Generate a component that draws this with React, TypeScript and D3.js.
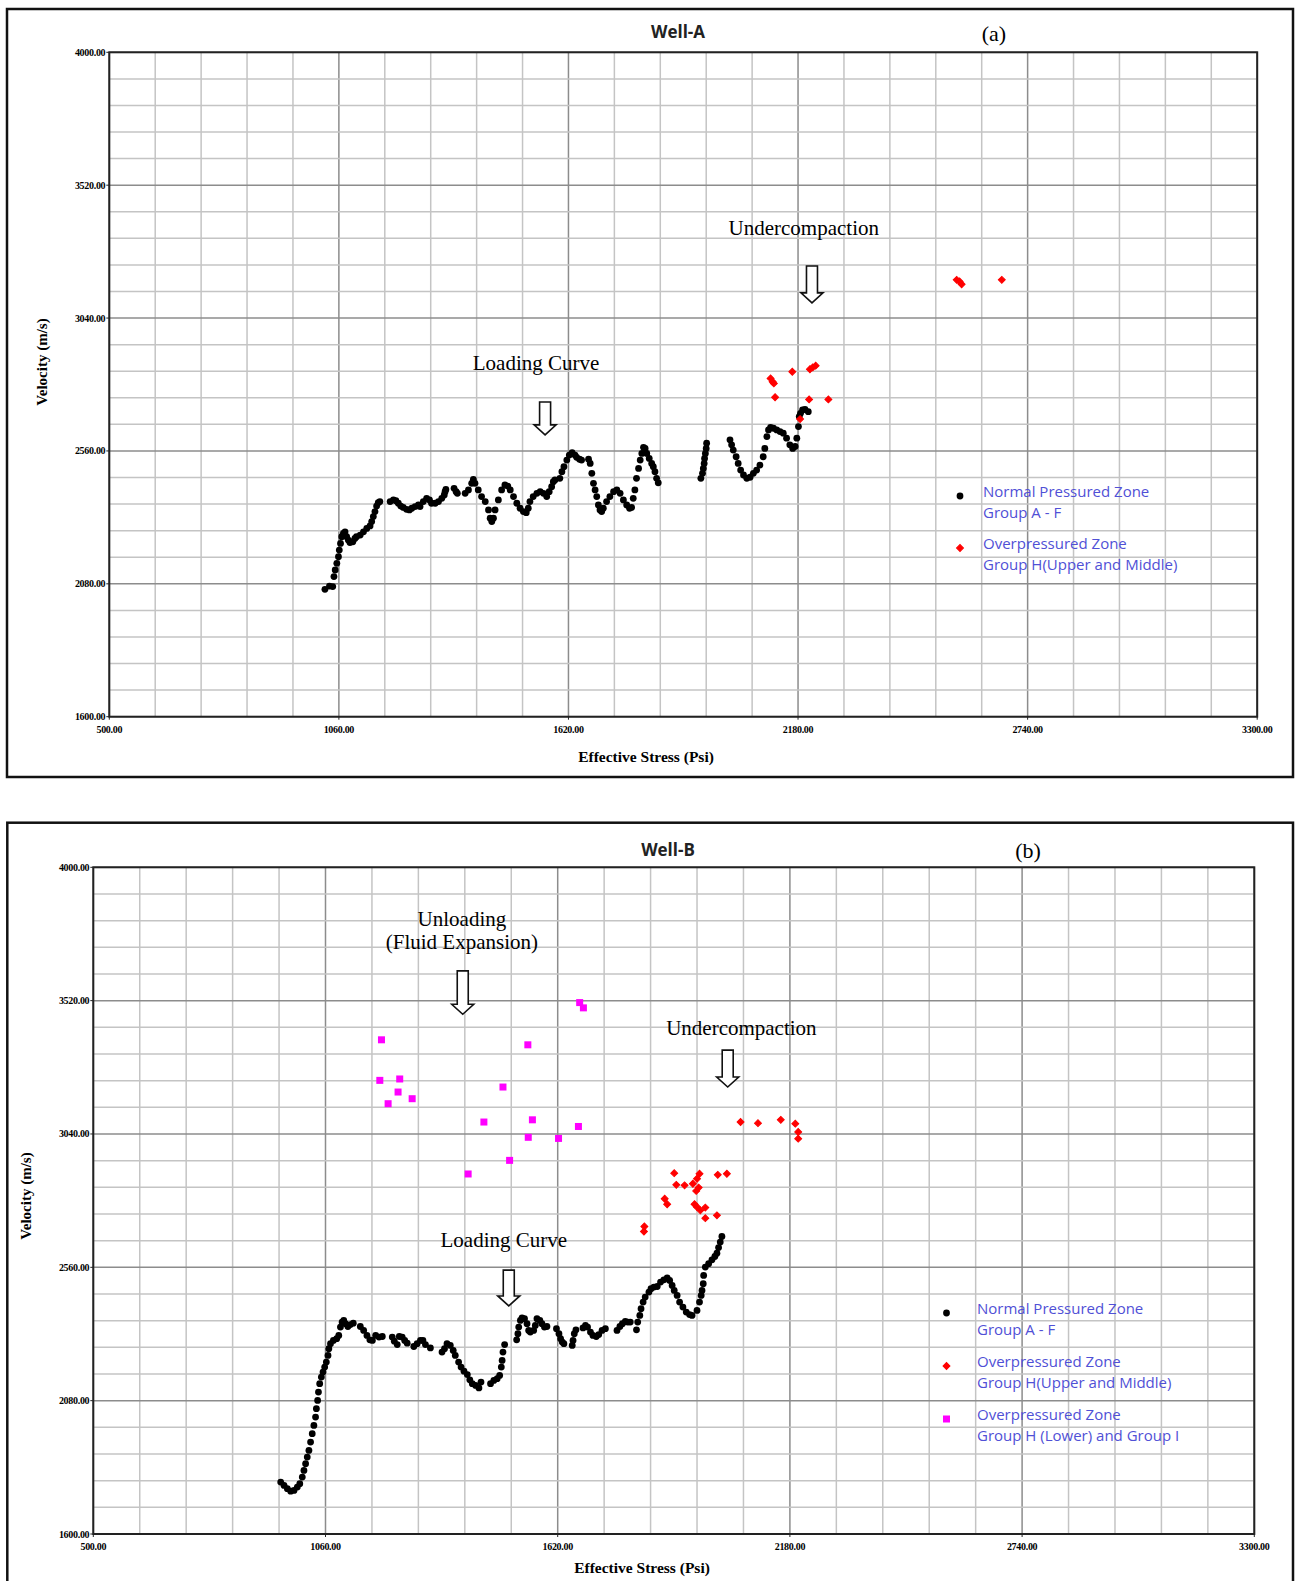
import { useEffect, useRef } from 'react';
import * as d3 from 'd3';

// Axis ticks shared by both panels
const xTicks = [500, 1060, 1620, 2180, 2740, 3300];
const yTicks = [1600, 2080, 2560, 3040, 3520, 4000];

// Well-A: normal pressured zone (Group A - F), [effective stress, velocity]
const wellANormal = [
    [1026, 2060], [1037, 2072], [1045, 2070], [1048, 2106], [1051, 2130], [1055, 2154], [1059, 2178],
    [1061, 2202], [1064, 2226], [1067, 2250], [1071, 2262], [1075, 2268], [1079, 2250], [1083, 2238],
    [1087, 2229], [1094, 2232], [1099, 2244], [1103, 2250], [1112, 2256], [1120, 2268], [1128, 2280],
    [1136, 2289], [1140, 2305], [1144, 2323], [1148, 2341], [1152, 2361], [1156, 2373], [1160, 2377],
    [1185, 2377], [1193, 2383], [1199, 2380], [1205, 2371], [1211, 2361], [1217, 2356], [1225, 2349],
    [1232, 2347], [1238, 2353], [1246, 2359], [1254, 2365], [1258, 2359], [1266, 2377], [1274, 2389],
    [1281, 2383], [1286, 2371], [1295, 2371], [1303, 2377], [1311, 2389], [1317, 2401], [1319, 2413],
    [1321, 2421], [1341, 2425], [1346, 2413], [1349, 2407], [1368, 2407], [1376, 2419], [1384, 2443],
    [1388, 2457], [1392, 2443], [1400, 2419], [1408, 2395], [1417, 2377], [1425, 2347], [1429, 2317],
    [1433, 2305], [1437, 2317], [1441, 2347], [1449, 2383], [1457, 2419], [1465, 2437], [1472, 2433],
    [1478, 2419], [1486, 2395], [1494, 2371], [1502, 2353], [1510, 2341], [1517, 2337], [1522, 2353],
    [1526, 2377], [1534, 2395], [1543, 2407], [1551, 2413], [1559, 2407], [1567, 2395], [1573, 2413],
    [1579, 2431], [1583, 2449], [1587, 2455], [1599, 2461], [1604, 2485], [1609, 2503], [1616, 2527],
    [1622, 2545], [1629, 2554], [1636, 2545], [1640, 2537], [1647, 2530], [1652, 2527], [1669, 2530],
    [1673, 2515], [1677, 2479], [1681, 2443], [1685, 2419], [1689, 2395], [1693, 2365], [1697, 2347],
    [1701, 2341], [1705, 2353], [1713, 2377], [1721, 2395], [1730, 2413], [1738, 2419], [1746, 2407],
    [1754, 2383], [1762, 2365], [1769, 2353], [1774, 2356], [1778, 2389], [1782, 2419], [1786, 2461],
    [1791, 2497], [1795, 2527], [1799, 2551], [1803, 2573], [1807, 2569], [1811, 2551], [1817, 2533],
    [1823, 2515], [1827, 2503], [1831, 2485], [1835, 2461], [1839, 2445],
    [1957, 2588], [1956, 2569], [1954, 2551], [1952, 2533], [1951, 2515], [1949, 2497], [1947, 2479],
    [1943, 2461],
    [2014, 2600], [2018, 2582], [2022, 2563], [2029, 2539], [2034, 2515], [2040, 2491], [2047, 2473],
    [2055, 2461], [2063, 2465], [2071, 2479], [2079, 2491], [2087, 2509], [2095, 2539], [2099, 2569],
    [2104, 2612], [2108, 2636], [2113, 2645], [2120, 2642], [2128, 2636], [2136, 2630], [2144, 2624],
    [2152, 2606], [2160, 2582], [2167, 2569], [2173, 2576], [2177, 2606], [2181, 2648], [2183, 2684],
    [2186, 2696], [2191, 2708], [2197, 2710], [2205, 2702],
];

// Well-A: overpressured zone, Group H (upper and middle)
const wellAOverUpper = [
    [2113, 2822], [2118, 2810], [2121, 2804], [2124, 2754], [2166, 2846], [2207, 2746], [2209, 2855],
    [2216, 2862], [2223, 2868], [2254, 2746], [2185, 2675], [2567, 3178], [2574, 3172], [2579, 3162],
    [2677, 3178],
];

// Well-B: normal pressured zone (Group A - F)
const wellBNormal = [
    [952, 1787], [960, 1775], [968, 1763], [976, 1754], [984, 1757], [992, 1769], [998, 1781],
    [1004, 1805], [1008, 1829], [1012, 1853], [1016, 1877], [1020, 1901], [1024, 1931], [1028, 1961],
    [1032, 1991], [1036, 2021], [1038, 2051], [1041, 2081], [1043, 2111], [1046, 2141], [1050, 2165],
    [1054, 2183], [1058, 2201], [1062, 2219], [1066, 2243], [1068, 2267], [1072, 2285], [1079, 2297],
    [1087, 2303], [1092, 2315], [1096, 2345], [1100, 2363], [1104, 2369], [1108, 2357], [1114, 2347],
    [1120, 2354], [1127, 2359],
    [1144, 2347], [1152, 2333], [1160, 2315], [1167, 2299], [1173, 2297], [1181, 2315], [1189, 2309],
    [1197, 2311],
    [1221, 2309], [1226, 2294], [1233, 2282], [1238, 2311], [1245, 2309], [1251, 2297], [1257, 2287],
    [1273, 2275], [1281, 2285], [1289, 2297], [1295, 2297], [1301, 2282], [1313, 2270],
    [1341, 2255], [1347, 2267], [1353, 2285], [1361, 2279], [1368, 2261], [1373, 2243], [1381, 2219],
    [1387, 2201], [1394, 2186], [1402, 2174], [1408, 2155], [1414, 2141], [1422, 2135], [1430, 2126],
    [1435, 2147],
    [1458, 2141], [1466, 2153], [1474, 2159], [1480, 2171], [1484, 2201], [1486, 2225], [1488, 2255],
    [1492, 2282],
    [1521, 2299], [1524, 2321], [1526, 2345], [1530, 2369], [1534, 2378], [1540, 2375], [1546, 2357],
    [1550, 2333], [1554, 2327], [1562, 2333], [1566, 2351], [1570, 2375], [1577, 2369], [1582, 2357],
    [1588, 2345], [1594, 2347],
    [1617, 2339], [1623, 2321], [1627, 2303], [1631, 2291], [1635, 2285],
    [1655, 2279], [1657, 2297], [1660, 2321], [1664, 2335],
    [1681, 2342], [1687, 2351], [1692, 2345], [1699, 2327], [1705, 2315], [1713, 2311], [1719, 2318],
    [1727, 2333], [1735, 2339],
    [1763, 2333], [1770, 2347], [1776, 2357], [1783, 2365], [1789, 2363], [1795, 2363],
    [1810, 2335], [1813, 2363], [1818, 2387], [1821, 2411], [1826, 2435], [1831, 2453], [1840, 2471],
    [1845, 2483], [1852, 2489], [1860, 2491], [1868, 2507], [1876, 2515], [1884, 2522], [1890, 2513],
    [1896, 2495], [1901, 2477], [1908, 2459], [1914, 2435], [1922, 2417], [1930, 2399], [1938, 2390],
    [1944, 2387], [1956, 2405], [1962, 2435], [1966, 2459], [1968, 2477], [1971, 2501], [1972, 2531],
    [1976, 2561], [1984, 2573], [1992, 2587], [1999, 2599], [2004, 2611], [2008, 2631], [2012, 2651],
    [2016, 2671],
];

// Well-B: overpressured zone, Group H (upper and middle)
const wellBOverUpper = [
    [2061, 3083], [2103, 3079], [2158, 3091], [2193, 3077], [2200, 3047], [2200, 3023], [1901, 2899],
    [1962, 2897], [2006, 2893], [2028, 2897], [1906, 2857], [1926, 2855], [1946, 2861], [1956, 2879],
    [1954, 2835], [1960, 2847], [1950, 2787], [1956, 2777], [1964, 2765], [1976, 2775], [1976, 2737],
    [2004, 2747], [1878, 2807], [1884, 2787], [1829, 2707], [1828, 2689],
];

// Well-B: overpressured zone, Group H (lower) and Group I
const wellBOverLower = [
    [1195, 3379], [1191, 3233], [1239, 3238], [1235, 3191], [1269, 3167], [1211, 3149], [1548, 3361],
    [1488, 3209], [1442, 3083], [1559, 3091], [1549, 3028], [1622, 3024], [1670, 3067], [1504, 2945],
    [1404, 2896], [1673, 3513], [1682, 3494],
];

const LEGEND_BLUE = '#5050d6';
const SERIF = '"Liberation Serif", "Times New Roman", serif';
const SANS = '"Open Sans", "Noto Sans", sans-serif';

const panels = [
    {
        title: 'Well-A',
        tag: '(a)',
        frame: { x: 7, y: 9, w: 1286, h: 768 },
        plot: { left: 109.3, right: 1257.2, top: 52.3, bottom: 716.7 },
        titleY: 38,
        titleX: 678,
        tagX: 994,
        tagY: 41,
        yTitleX: 47,
        yTitleY: 362,
        xTitleX: 646,
        xTitleY: 762,
        series: [
            { data: wellANormal, kind: 'circle' },
            { data: wellAOverUpper, kind: 'diamond' },
        ],
        notes: [
            { lines: ['Loading Curve'], x: 1541, y: 2852, arrow: { x: 1563, top: 2737, tip: 2618 } },
            { lines: ['Undercompaction'], x: 2194, y: 3340, arrow: { x: 2214, top: 3228, tip: 3095 } },
        ],
        legend: {
            markerX: 960,
            textX: 983,
            items: [
                { kind: 'circle', y: 496, lines: ['Normal Pressured Zone', 'Group A - F'] },
                { kind: 'diamond', y: 548, lines: ['Overpressured Zone', 'Group H(Upper and Middle)'] },
            ],
        },
    },
    {
        title: 'Well-B',
        tag: '(b)',
        frame: { x: 7.3, y: 822.7, w: 1285.7, h: 780 },
        plot: { left: 93.3, right: 1254.3, top: 867.3, bottom: 1534 },
        titleY: 856,
        titleX: 668,
        tagX: 1028,
        tagY: 858,
        yTitleX: 31,
        yTitleY: 1196,
        xTitleX: 642,
        xTitleY: 1573,
        series: [
            { data: wellBNormal, kind: 'circle' },
            { data: wellBOverUpper, kind: 'diamond' },
            { data: wellBOverLower, kind: 'square' },
        ],
        notes: [
            { lines: ['Unloading', '(Fluid Expansion)'], x: 1389, y: 3789, arrow: { x: 1391, top: 3627, tip: 3471 } },
            { lines: ['Undercompaction'], x: 2063, y: 3396, arrow: { x: 2030, top: 3342, tip: 3209 } },
            { lines: ['Loading Curve'], x: 1490, y: 2634, arrow: { x: 1502, top: 2550, tip: 2421 } },
        ],
        legend: {
            markerX: 946.5,
            textX: 977,
            items: [
                { kind: 'circle', y: 1313, lines: ['Normal Pressured Zone', 'Group A - F'] },
                { kind: 'diamond', y: 1366, lines: ['Overpressured Zone', 'Group H(Upper and Middle)'] },
                { kind: 'square', y: 1419, lines: ['Overpressured Zone', 'Group H (Lower) and Group I'] },
            ],
        },
    },
];

function drawMarker(g, kind, x, y) {
    if (kind === 'circle') {
        g.append('circle').attr('cx', x).attr('cy', y).attr('r', 3.4).attr('fill', '#000');
    } else if (kind === 'diamond') {
        g.append('path')
            .attr('d', d3.symbol(d3.symbolSquare, 24)())
            .attr('transform', `translate(${x},${y}) rotate(45)`)
            .attr('fill', '#ff0000')
            .attr('stroke', '#ff0000')
            .attr('stroke-width', 1);
    } else {
        g.append('rect')
            .attr('x', x - 3.5)
            .attr('y', y - 3.5)
            .attr('width', 7)
            .attr('height', 7)
            .attr('fill', '#ff00ff');
    }
}

export default function App() {
    const svgRef = useRef();

    useEffect(() => {
        const svg = d3.select(svgRef.current);
        svg.selectAll('*').remove();

        panels.forEach((p) => {
            const x = d3.scaleLinear().domain([500, 3300]).range([p.plot.left, p.plot.right]);
            const y = d3.scaleLinear().domain([1600, 4000]).range([p.plot.bottom, p.plot.top]);

            // Outer frame
            svg.append('rect')
                .attr('x', p.frame.x)
                .attr('y', p.frame.y)
                .attr('width', p.frame.w)
                .attr('height', p.frame.h)
                .attr('fill', '#fff')
                .attr('stroke', '#111')
                .attr('stroke-width', 2.5);

            const g = svg.append('g');

            // Grid: 5 subdivisions between labelled ticks
            const xMinor = d3.range(500, 3300 + 1, 112);
            const yMinor = d3.range(1600, 4000 + 1, 96);

            g.selectAll('.vgrid')
                .data(xMinor)
                .enter()
                .append('line')
                .attr('x1', (d) => x(d))
                .attr('x2', (d) => x(d))
                .attr('y1', p.plot.top)
                .attr('y2', p.plot.bottom)
                .attr('stroke', (d) => (xTicks.includes(d) ? '#8c8c8c' : '#c4c4c4'))
                .attr('stroke-width', 1.5);

            g.selectAll('.hgrid')
                .data(yMinor)
                .enter()
                .append('line')
                .attr('x1', p.plot.left)
                .attr('x2', p.plot.right)
                .attr('y1', (d) => y(d))
                .attr('y2', (d) => y(d))
                .attr('stroke', (d) => (yTicks.includes(d) ? '#8c8c8c' : '#c4c4c4'))
                .attr('stroke-width', 1.5);

            // Plot border
            g.append('rect')
                .attr('x', p.plot.left)
                .attr('y', p.plot.top)
                .attr('width', p.plot.right - p.plot.left)
                .attr('height', p.plot.bottom - p.plot.top)
                .attr('fill', 'none')
                .attr('stroke', '#222')
                .attr('stroke-width', 2);

            // Y ticks + labels
            yTicks.forEach((t) => {
                g.append('line')
                    .attr('x1', p.plot.left - 3)
                    .attr('x2', p.plot.left)
                    .attr('y1', y(t))
                    .attr('y2', y(t))
                    .attr('stroke', '#222');
                g.append('text')
                    .attr('x', p.plot.left - 4)
                    .attr('y', y(t) + 3.5)
                    .attr('text-anchor', 'end')
                    .style('font-family', SERIF)
                    .style('font-weight', 'bold')
                    .style('font-size', '10px')
                    .style('letter-spacing', '-0.3px')
                    .text(t.toFixed(2));
            });

            // X ticks + labels
            xTicks.forEach((t) => {
                g.append('line')
                    .attr('x1', x(t))
                    .attr('x2', x(t))
                    .attr('y1', p.plot.bottom)
                    .attr('y2', p.plot.bottom + 3)
                    .attr('stroke', '#222');
                g.append('text')
                    .attr('x', x(t))
                    .attr('y', p.plot.bottom + 16)
                    .attr('text-anchor', 'middle')
                    .style('font-family', SERIF)
                    .style('font-weight', 'bold')
                    .style('font-size', '10px')
                    .style('letter-spacing', '-0.3px')
                    .text(t.toFixed(2));
            });

            // Axis titles
            g.append('text')
                .attr('transform', `translate(${p.yTitleX},${p.yTitleY}) rotate(-90)`)
                .attr('text-anchor', 'middle')
                .style('font-family', SERIF)
                .style('font-weight', 'bold')
                .style('font-size', '15px')
                .text('Velocity (m/s)');

            g.append('text')
                .attr('x', p.xTitleX)
                .attr('y', p.xTitleY)
                .attr('text-anchor', 'middle')
                .style('font-family', SERIF)
                .style('font-weight', 'bold')
                .style('font-size', '15.5px')
                .text('Effective Stress (Psi)');

            // Title and panel tag
            g.append('text')
                .attr('x', p.titleX)
                .attr('y', p.titleY)
                .attr('text-anchor', 'middle')
                .style('font-family', SANS)
                .style('font-weight', 'bold')
                .style('font-size', '17px')
                .attr('fill', '#222')
                .text(p.title);

            g.append('text')
                .attr('x', p.tagX)
                .attr('y', p.tagY)
                .attr('text-anchor', 'middle')
                .style('font-family', SERIF)
                .style('font-size', '22px')
                .text(p.tag);

            // Data points
            p.series.forEach((s) => {
                const sg = g.append('g');
                s.data.forEach((d) => drawMarker(sg, s.kind, x(d[0]), y(d[1])));
            });

            // Annotations with hollow down arrows
            p.notes.forEach((n) => {
                n.lines.forEach((line, i) => {
                    g.append('text')
                        .attr('x', x(n.x))
                        .attr('y', y(n.y) + i * 23)
                        .attr('text-anchor', 'middle')
                        .style('font-family', SERIF)
                        .style('font-size', '21px')
                        .text(line);
                });
                const ax = x(n.arrow.x);
                const top = y(n.arrow.top);
                const tip = y(n.arrow.tip);
                const headH = 10;
                const sw = 5.5;
                const hw = 11;
                const path = d3.path();
                path.moveTo(ax - sw, top);
                path.lineTo(ax + sw, top);
                path.lineTo(ax + sw, tip - headH);
                path.lineTo(ax + hw, tip - headH);
                path.lineTo(ax, tip);
                path.lineTo(ax - hw, tip - headH);
                path.lineTo(ax - sw, tip - headH);
                path.closePath();
                g.append('path')
                    .attr('d', path.toString())
                    .attr('fill', '#fff')
                    .attr('stroke', '#111')
                    .attr('stroke-width', 1.6)
                    .attr('stroke-linejoin', 'miter');
            });

            // Legend
            const lg = g.append('g');
            p.legend.items.forEach((item) => {
                drawMarker(lg, item.kind, p.legend.markerX, item.y);
                item.lines.forEach((line, i) => {
                    lg.append('text')
                        .attr('x', p.legend.textX)
                        .attr('y', item.y + 1 + i * 21)
                        .style('font-family', SANS)
                        .style('font-size', '15px')
                        .attr('fill', LEGEND_BLUE)
                        .text(line);
                });
            });
        });
    }, []);

    return (
        <svg
            ref={svgRef}
            width={1296}
            height={1581}
            style={{ position: 'absolute', left: 0, top: 0, background: '#fff' }}
        ></svg>
    );
}
